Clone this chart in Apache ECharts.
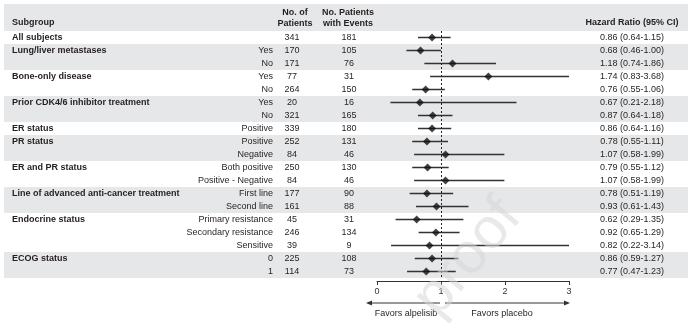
<!DOCTYPE html>
<html>
<head>
<meta charset="utf-8">
<script src="https://cdn.jsdelivr.net/npm/echarts@6/dist/echarts.min.js"></script>
<style>
html,body{margin:0;padding:0;background:#fff;}
#chart{width:692px;height:323px;}
</style>
</head>
<body>
<div id="chart"></div>
<script>
const subgroups = ['All subjects','Lung/liver metastases','','Bone-only disease','','Prior CDK4/6 inhibitor treatment','','ER status','PR status','','ER and PR status','','Line of advanced anti-cancer treatment','','Endocrine status','','','ECOG status',''];
const levels = ['','Yes','No','Yes','No','Yes','No','Positive','Positive','Negative','Both positive','Positive - Negative','First line','Second line','Primary resistance','Secondary resistance','Sensitive','0','1'];
const patients = [341,170,171,77,264,20,321,339,252,84,250,84,177,161,45,246,39,225,114];
const events = [181,105,76,31,150,16,165,180,131,46,130,46,90,88,31,134,9,108,73];
const hr = [0.86,0.68,1.18,1.74,0.76,0.67,0.87,0.86,0.78,1.07,0.79,1.07,0.78,0.93,0.62,0.92,0.82,0.86,0.77];
const ciLow = [0.64,0.46,0.74,0.83,0.55,0.21,0.64,0.64,0.55,0.58,0.55,0.58,0.51,0.61,0.29,0.65,0.22,0.59,0.47];
const ciHigh = [1.15,1.00,1.86,3.68,1.06,2.18,1.18,1.16,1.11,1.99,1.12,1.99,1.19,1.43,1.35,1.29,3.14,1.27,1.23];
const xTicks = [0,1,2,3];
const headers = {subgroup:'Subgroup', patients:'No. of\nPatients', events:'No. Patients\nwith Events', hr:'Hazard Ratio (95% CI)'};
const favors = ['Favors alpelisib','Favors placebo'];

const FONT = '"Liberation Sans", Arial, Helvetica, sans-serif';
const TXT = '#231f20';
const BAND = '#e6e7e8';

const rowIds = subgroups.map((_, i) => 'r' + i);
const hrText = hr.map((v, i) => v.toFixed(2) + ' (' + ciLow[i].toFixed(2) + '-' + ciHigh[i].toFixed(2) + ')');
// shading alternates by group
let g = -1;
const shaded = [];
subgroups.forEach((s, i) => { if (s !== '') g++; if (g % 2 === 1) shaded.push(i); });

function colAxis(data, pos, offset, align, bold) {
  return {
    type: 'category', data: data, inverse: true, position: pos, offset: offset, z: 6,
    axisLine: {show: false}, axisTick: {show: false}, splitLine: {show: false},
    axisLabel: {show: true, interval: 0, margin: 0, align: align, color: TXT,
      fontFamily: FONT, fontSize: 9, fontWeight: bold ? 'bold' : 'normal'}
  };
}

const chart = echarts.init(document.getElementById('chart'), null, {renderer: 'canvas'});
const option = {
  animation: false,
  backgroundColor: '#fff',
  grid: {left: 377, right: 123, top: 31, bottom: 45},
  xAxis: {
    type: 'value', min: xTicks[0], max: xTicks[xTicks.length - 1], interval: 1,
    position: 'bottom', offset: 3,
    axisLine: {show: true, lineStyle: {color: '#333', width: 1}},
    axisTick: {show: true, length: 4, inside: false, lineStyle: {color: '#333'}},
    axisLabel: {margin: 6, color: '#333', fontFamily: FONT, fontSize: 9},
    splitLine: {show: false}
  },
  yAxis: [
    {type: 'category', data: rowIds, inverse: true, show: false},
    colAxis(subgroups, 'left', 365, 'left', true),
    colAxis(levels, 'left', 104, 'right', false),
    colAxis(patients.map(String), 'left', 85, 'center', false),
    colAxis(events.map(String), 'left', 28, 'center', false),
    colAxis(hrText, 'right', 63, 'center', false)
  ],
  series: [
    {
      type: 'custom', z: 1, silent: true, clip: false,
      data: shaded.map(i => [0, i]), encode: {x: 0, y: 1},
      renderItem: function (params, api) {
        const c = api.coord([0, api.value(1)]);
        const h = api.size([0, 1])[1];
        return {type: 'rect', shape: {x: 4, y: c[1] - h / 2, width: 684, height: h}, style: {fill: BAND}};
      }
    },
    {
      type: 'custom', z: 3, silent: true, clip: true,
      data: ciLow.map((l, i) => [l, ciHigh[i], i]), encode: {x: [0, 1], y: 2},
      renderItem: function (params, api) {
        const a = api.coord([api.value(0), api.value(2)]);
        const b = api.coord([api.value(1), api.value(2)]);
        return {type: 'line', shape: {x1: a[0], y1: a[1], x2: b[0], y2: b[1]}, style: {stroke: '#333', lineWidth: 1.6}};
      }
    },
    {
      type: 'scatter', z: 4, silent: true,
      data: hr.map((v, i) => [v, i]),
      symbol: 'diamond', symbolSize: 8,
      itemStyle: {color: '#111'},
      markLine: {
        silent: true, symbol: ['none', 'none'], label: {show: false},
        lineStyle: {type: [2, 2], color: '#222', width: 1},
        data: [{xAxis: 1}]
      }
    }
  ]
};
chart.setOption(option);

const x0 = chart.convertToPixel({xAxisIndex: 0}, 0);
const x1 = chart.convertToPixel({xAxisIndex: 0}, 1);
const x3 = chart.convertToPixel({xAxisIndex: 0}, 3);
const ay = 303;
const hdrStyle = (t, x, y, align) => ({type: 'text', x: x, y: y, z: 10, silent: true,
  style: {text: t, fill: TXT, font: 'bold 9px ' + FONT, textAlign: align, textVerticalAlign: 'middle', lineHeight: 11}});

chart.setOption({
  graphic: [
    {type: 'rect', z: 0, silent: true, shape: {x: 4, y: 4, width: 684, height: 27}, style: {fill: BAND}},
    hdrStyle(headers.subgroup, 12, 23, 'left'),
    hdrStyle(headers.patients, 295, 18, 'center'),
    hdrStyle(headers.events, 348, 18, 'center'),
    hdrStyle(headers.hr, 632, 23, 'center'),
    {type: 'line', z: 10, silent: true, shape: {x1: x1 - 1, y1: ay, x2: x0 - 6, y2: ay}, style: {stroke: '#333', lineWidth: 1}},
    {type: 'polygon', z: 10, silent: true, shape: {points: [[x0 - 11, ay], [x0 - 5, ay - 2.5], [x0 - 5, ay + 2.5]]}, style: {fill: '#333'}},
    {type: 'line', z: 10, silent: true, shape: {x1: x1 + 4, y1: ay, x2: x3 - 5, y2: ay}, style: {stroke: '#333', lineWidth: 1}},
    {type: 'polygon', z: 10, silent: true, shape: {points: [[x3 + 1, ay], [x3 - 5, ay - 2.5], [x3 - 5, ay + 2.5]]}, style: {fill: '#333'}},
    {type: 'text', z: 10, silent: true, x: (x0 + x1) / 2 - 3, y: 314,
      style: {text: favors[0], fill: TXT, font: '9px ' + FONT, textAlign: 'center', textVerticalAlign: 'middle'}},
    {type: 'text', z: 10, silent: true, x: x1 + 61, y: 314,
      style: {text: favors[1], fill: TXT, font: '9px ' + FONT, textAlign: 'center', textVerticalAlign: 'middle'}},
    {type: 'text', z: 20, silent: true, x: 468, y: 258, rotation: 50 * Math.PI / 180,
      style: {text: 'proof', fill: 'rgba(215,215,215,0.55)', font: '58px ' + FONT, textAlign: 'center', textVerticalAlign: 'middle'}}
  ]
});
</script>
</body>
</html>
